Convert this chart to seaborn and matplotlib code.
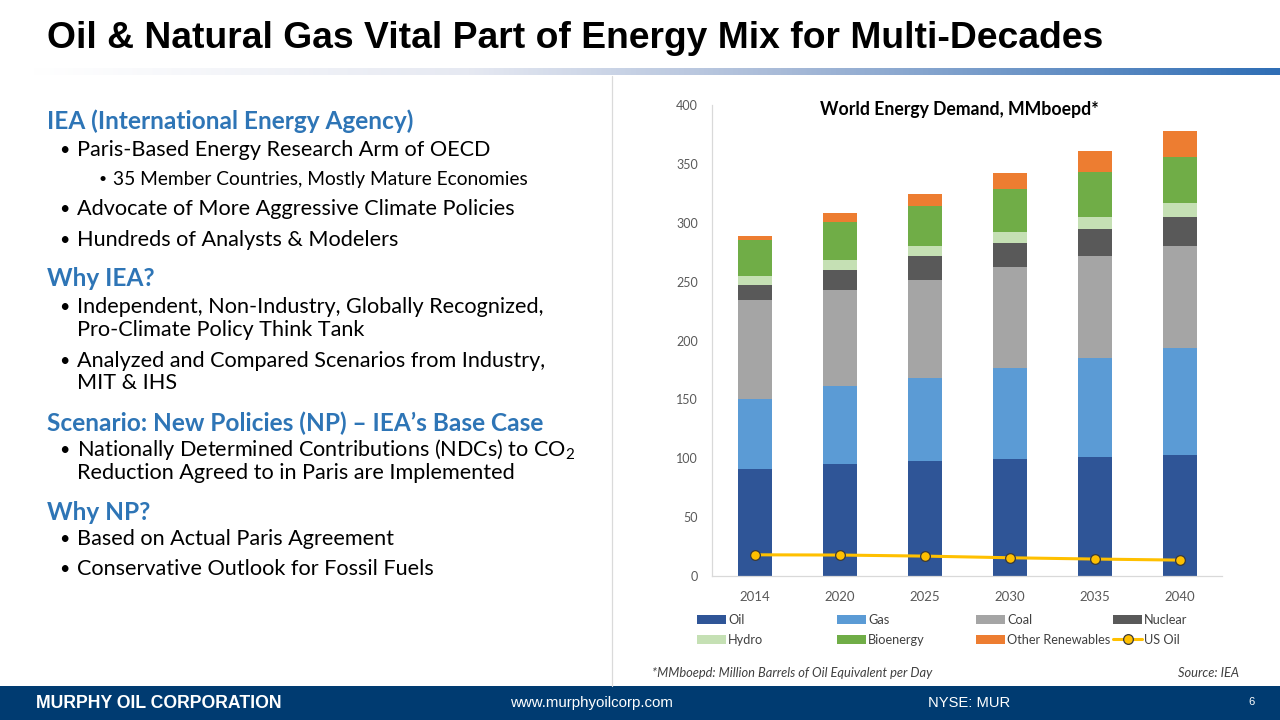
import numpy as np
import pandas as pd
import matplotlib
matplotlib.use("Agg")
import matplotlib.pyplot as plt
import seaborn as sns
from matplotlib.patches import Patch, Rectangle
from matplotlib.lines import Line2D
from matplotlib.colors import LinearSegmentedColormap

# -------------------------
# Data
# -------------------------
years = ["2014", "2020", "2025", "2030", "2035", "2040"]
oil = [90.5, 95, 97.5, 99.5, 101, 102.5]
gas = [60, 66, 71, 77, 84.5, 91]
coal = [83.5, 82, 83, 85.5, 86.5, 87]
nuclear = [13.5, 17, 20, 21, 23, 24.5]
hydro = [7.5, 8, 8.5, 9, 10, 12]
bioenergy = [30, 33, 34, 37, 38, 39]
other_renew = [3.5, 7, 10, 13.5, 18, 22]
us_oil = [18, 17.8, 16.9, 15.5, 14.4, 13.5]

sources = ["Oil", "Gas", "Coal", "Nuclear", "Hydro", "Bioenergy", "Other Renewables"]
colors = {
    "Oil": "#2F5597",
    "Gas": "#5B9BD5",
    "Coal": "#A5A5A5",
    "Nuclear": "#595959",
    "Hydro": "#C5E0B4",
    "Bioenergy": "#70AD47",
    "Other Renewables": "#ED7D31",
}
LINE_COLOR = "#FFC000"
HEAD_BLUE = "#2E75B6"
NAVY = "#003B71"

sns.set_theme(style="white")
plt.rcParams["font.family"] = ["Lato", "DejaVu Sans"]

W, H = 1280, 720
fig = plt.figure(figsize=(12.8, 7.2), dpi=100)
fig.patch.set_facecolor("white")


def fx(px):
    return px / W


def fy(py):
    return 1 - py / H


# -------------------------
# Slide furniture
# -------------------------
fig.text(fx(47), fy(38), "Oil & Natural Gas Vital Part of Energy Mix for Multi-Decades",
         fontsize=26.8, fontweight="bold", va="center", ha="left",
         family=["Liberation Sans", "DejaVu Sans"], color="black")

grad_ax = fig.add_axes([fx(30), fy(75), fx(1250), 7 / H])
cmap = LinearSegmentedColormap.from_list("band", [(0, "#FFFFFF"), (0.35, "#E6E9F2"),
                                                  (0.6, "#A9BBD8"), (1, "#2F6EB5")])
grad_ax.imshow(np.linspace(0, 1, 512)[None, :], aspect="auto", cmap=cmap)
grad_ax.set_axis_off()

fig.add_artist(Line2D([fx(612), fx(612)], [fy(76), fy(686)], color="#DADADA", lw=0.9))

fig.add_artist(Rectangle((0, 0), 1, 34 / H, transform=fig.transFigure,
                         facecolor=NAVY, edgecolor="none"))
ff = ["Liberation Sans", "DejaVu Sans"]
fig.text(fx(36), fy(703), "MURPHY OIL CORPORATION", color="white", fontsize=12.7,
         fontweight="bold", va="center", family=ff)
fig.text(fx(510), fy(703), "www.murphyoilcorp.com", color="white", fontsize=10.8,
         va="center", family=ff)
fig.text(fx(928), fy(703), "NYSE: MUR", color="white", fontsize=10.6, va="center", family=ff)
fig.text(fx(1248), fy(702), "6", color="white", fontsize=8, va="center", family=ff)

# left-hand bullet text
lines = [
    ("h", 121, "IEA (International Energy Agency)"),
    ("b", 150, "Paris-Based Energy Research Arm of OECD"),
    ("s", 179, "35 Member Countries, Mostly Mature Economies"),
    ("b", 209, "Advocate of More Aggressive Climate Policies"),
    ("b", 240, "Hundreds of Analysts & Modelers"),
    ("h", 278, "Why IEA?"),
    ("b", 307, "Independent, Non-Industry, Globally Recognized,"),
    ("c", 330, "Pro-Climate Policy Think Tank"),
    ("b", 361, "Analyzed and Compared Scenarios from Industry,"),
    ("c", 383, "MIT & IHS"),
    ("h", 423, "Scenario: New Policies (NP) \u2013 IEA\u2019s Base Case"),
    ("b", 450, "Nationally Determined Contributions (NDCs) to CO$_\\mathregular{2}$"),
    ("c", 473, "Reduction Agreed to in Paris are Implemented"),
    ("h", 512, "Why NP?"),
    ("b", 539, "Based on Actual Paris Agreement"),
    ("b", 569, "Conservative Outlook for Fossil Fuels"),
]
for kind, y, txt in lines:
    if kind == "h":
        fig.text(fx(47), fy(y), txt, color=HEAD_BLUE, fontsize=17.6, fontweight="bold",
                 va="center")
    elif kind == "s":
        fig.text(fx(99), fy(y), "\u2022", fontsize=10, va="center", color="black")
        fig.text(fx(113), fy(y), txt, fontsize=13.8, va="center", color="black")
    else:
        if kind == "b":
            fig.text(fx(59), fy(y), "\u2022", fontsize=13, va="center", color="black")
        fig.text(fx(77), fy(y), txt, fontsize=15.6, va="center", color="black")

# -------------------------
# Stacked bar chart
# -------------------------
df = pd.DataFrame({"year": years, "Oil": oil, "Gas": gas, "Coal": coal,
                   "Nuclear": nuclear, "Hydro": hydro, "Bioenergy": bioenergy,
                   "Other Renewables": other_renew})
cum = df[sources].cumsum(axis=1)
cum["year"] = df["year"]

ax = fig.add_axes([fx(712), fy(576), fx(510), 471 / H])
for s in reversed(sources):
    sns.barplot(data=cum, x="year", y=s, order=years, color=colors[s], saturation=1,
                width=0.4, errorbar=None, edgecolor="none", linewidth=0, ax=ax)

sns.pointplot(x=years, y=us_oil, order=years, color=LINE_COLOR, markers="o",
              markersize=7, linewidth=2.2, markeredgecolor="#3A3A3A",
              markeredgewidth=0.9, errorbar=None, ax=ax)

ax.set_xlim(-0.5, 5.5)
ax.set_ylim(0, 400)
ax.set_yticks(range(0, 401, 50))
ax.set_xlabel("")
ax.set_ylabel("")
for sp in ["top", "right"]:
    ax.spines[sp].set_visible(False)
for sp in ["left", "bottom"]:
    ax.spines[sp].set_color("#D9D9D9")
    ax.spines[sp].set_linewidth(0.9)
ax.tick_params(axis="y", length=0, pad=10, labelsize=9, labelcolor="#595959")
ax.tick_params(axis="x", length=0, pad=11, labelsize=9.5, labelcolor="#595959")
ax.grid(False)
ax.set_facecolor("white")

fig.text(fx(959), fy(110), "World Energy Demand, MMboepd*", fontsize=12.7,
         fontweight="bold", ha="center", va="center", color="black")

# legend: four columns placed at fixed x positions
col_items = [("Oil", "Hydro"), ("Gas", "Bioenergy"), ("Coal", "Other Renewables"),
             ("Nuclear", "US Oil")]
col_x = [697, 837, 976, 1113]
for (a, b), x0 in zip(col_items, col_x):
    handles = []
    for name in (a, b):
        if name == "US Oil":
            handles.append(Line2D([], [], color=LINE_COLOR, lw=2.2, marker="o",
                                  markersize=7, markerfacecolor=LINE_COLOR,
                                  markeredgecolor="#3A3A3A", markeredgewidth=0.9,
                                  label=name))
        else:
            handles.append(Patch(facecolor=colors[name], edgecolor="none", label=name))
    fig.legend(handles=handles, loc="upper left", bbox_to_anchor=(fx(x0), fy(614)),
               frameon=False, fontsize=9.2, handlelength=2.3, handleheight=0.7,
               handletextpad=0.15, labelspacing=0.6, borderpad=0, borderaxespad=0,
               labelcolor="#404040")

fig.text(fx(652), fy(673), "*MMboepd: Million Barrels of Oil Equivalent per Day",
         fontsize=9.3, style="italic", va="center", color="#404040")
fig.text(fx(1239), fy(673), "Source: IEA", fontsize=9.3, style="italic", va="center",
         ha="right", color="#404040")

fig.savefig("out.png", dpi=100)
